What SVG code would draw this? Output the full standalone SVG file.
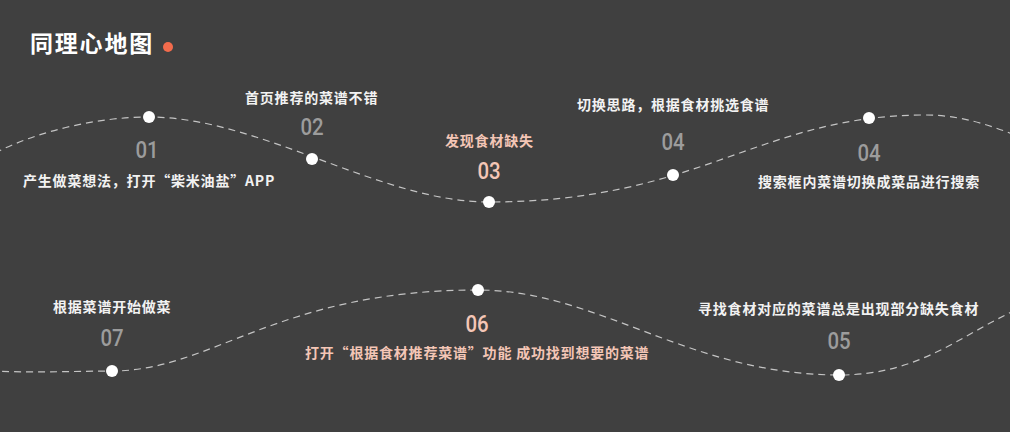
<svg xmlns="http://www.w3.org/2000/svg" width="1010" height="432" viewBox="0 0 1010 432">
<style>
.bg{fill:#404040}
.wave{fill:none;stroke:#c4c4c4;stroke-width:1.2;stroke-dasharray:7 5}
.dot{fill:#ffffff}
.lbl{font-family:"Noto Sans CJK SC","Noto Sans",sans-serif;font-size:14px;font-weight:700;fill:#f2f2f2;letter-spacing:0.8px}
.hl{fill:#f4c6b6}
.num{font-family:Roboto,"Liberation Sans",sans-serif;font-size:24px;font-weight:500;fill:#9c9c9c;text-anchor:middle}
.numhl{fill:#f4c6b6}
.title{font-family:"Noto Sans CJK SC","Noto Sans",sans-serif;font-size:23px;font-weight:700;fill:#ffffff;letter-spacing:1.8px}
</style>
<rect class="bg" x="0" y="0" width="1010" height="432"/>
<g id="title">
<text class="title" x="30" y="52">同理心地图</text>
<circle cx="168" cy="47" r="5" fill="#f26b4c"/>
</g>
<g id="connectors">
<path class="wave" d="M-5,153 C40,130 100,117 149,117 C260,117 380,202 489,202 C700,202 760,115 925,115 C960,115 990,125 1020,137"/>
<path class="wave" d="M-10,371 C40,373 80,371 112,371 C212,371 278,290 478,290 C598,290 689,375 839,375 C920,375 960,335 1020,308"/>
</g>
<g id="n01">
<circle class="dot" cx="149" cy="117" r="6"/>
<text class="num" transform="translate(147,158) scale(0.85,1)">01</text>
<text class="lbl" x="23" y="186">产生做菜想法，打开“柴米油盐”APP</text>
</g>
<g id="n02">
<circle class="dot" cx="312" cy="159" r="6"/>
<text class="num" transform="translate(312,135) scale(0.85,1)">02</text>
<text class="lbl" x="245" y="103">首页推荐的菜谱不错</text>
</g>
<g id="n03">
<circle class="dot" cx="489" cy="202" r="6"/>
<text class="num numhl" transform="translate(489,179) scale(0.85,1)">03</text>
<text class="lbl hl" x="445" y="146">发现食材缺失</text>
</g>
<g id="n04a">
<circle class="dot" cx="673" cy="175" r="6"/>
<text class="num" transform="translate(673,150) scale(0.85,1)">04</text>
<text class="lbl" x="577" y="110">切换思路，根据食材挑选食谱</text>
</g>
<g id="n04b">
<circle class="dot" cx="869" cy="118" r="6"/>
<text class="num" transform="translate(869,161) scale(0.85,1)">04</text>
<text class="lbl" x="758" y="187">搜索框内菜谱切换成菜品进行搜索</text>
</g>
<g id="n05">
<circle class="dot" cx="839" cy="375" r="6"/>
<text class="num" transform="translate(839,349) scale(0.85,1)">05</text>
<text class="lbl" x="698" y="314">寻找食材对应的菜谱总是出现部分缺失食材</text>
</g>
<g id="n06">
<circle class="dot" cx="478" cy="290" r="6"/>
<text class="num numhl" transform="translate(477,332) scale(0.85,1)">06</text>
<text class="lbl hl" x="305" y="358">打开“根据食材推荐菜谱”功能 成功找到想要的菜谱</text>
</g>
<g id="n07">
<circle class="dot" cx="112" cy="371" r="6"/>
<text class="num" transform="translate(112,346) scale(0.85,1)">07</text>
<text class="lbl" x="53" y="312">根据菜谱开始做菜</text>
</g>
</svg>
